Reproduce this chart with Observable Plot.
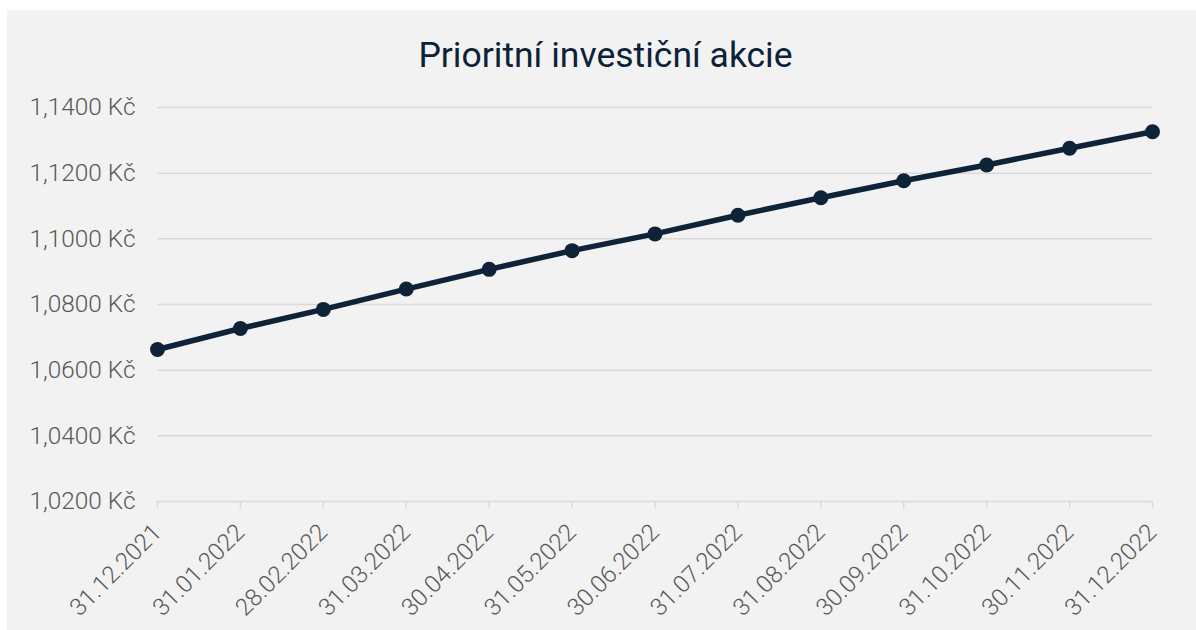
<!DOCTYPE html>
<html>
<head>
<meta charset="utf-8">
<script src="https://cdn.jsdelivr.net/npm/d3@7"></script>
<script src="https://cdn.jsdelivr.net/npm/@observablehq/plot@0.6"></script>
<style>
  body { margin: 0; background: #ffffff; }
  #frame { position: absolute; left: 7px; top: 10px; width: 1189px; height: 620px; background: #f2f2f2; font-family: Roboto, sans-serif; overflow: hidden; }
  #title { position: absolute; left: 4px; top: 24px; width: 1189px; text-align: center; font-size: 35.5px; line-height: normal; color: #0d2137; font-weight: 400; }
  #chart { position: absolute; left: 0; top: 80px; width: 1189px; }
  #chart svg text { font-family: Roboto, sans-serif; font-weight: 300; fill: #595959; }
</style>
</head>
<body>
<div id="frame">
  <div id="title">Prioritní investiční akcie</div>
  <div id="chart"></div>
</div>
<script>
const dates = ["31.12.2021","31.01.2022","28.02.2022","31.03.2022","30.04.2022","31.05.2022","30.06.2022","31.07.2022","31.08.2022","30.09.2022","31.10.2022","30.11.2022","31.12.2022"];
const values = [1.0663, 1.0727, 1.0785, 1.0847, 1.0907, 1.0964, 1.1015, 1.1072, 1.1125, 1.1177, 1.1225, 1.1276, 1.1326];
const yTicks = [1.02, 1.04, 1.06, 1.08, 1.10, 1.12, 1.14];

const data = dates.map((d, i) => ({date: d, value: values[i]}));
const fmt = v => v.toFixed(4).replace(".", ",") + "\u00a0Kč";
const lineColor = "#0e2238";
const gridColor = "#d9d9d9";

const chart = Plot.plot({
  width: 1189,
  height: 540,
  marginTop: 17,
  marginBottom: 129,
  marginLeft: 150,
  marginRight: 44,
  style: { background: "transparent", fontFamily: "Roboto, sans-serif", overflow: "visible" },
  x: { type: "point", domain: dates, padding: 0, round: false },
  y: { domain: [1.02, 1.14] },
  marks: [
    Plot.ruleY(yTicks, { stroke: gridColor, strokeWidth: 1.5 }),
    Plot.axisY({ ticks: yTicks, tickFormat: fmt, tickSize: 0, tickPadding: 22, fontSize: 24.4, label: null }),
    Plot.axisX({ tickRotate: -45, tickSize: 7, tickPadding: 20, fontSize: 24, stroke: gridColor, strokeWidth: 1.5, strokeOpacity: 1, label: null }),
    Plot.line(data, { x: "date", y: "value", stroke: lineColor, strokeWidth: 5.5 }),
    Plot.dot(data, { x: "date", y: "value", r: 7.5, fill: lineColor })
  ]
});
document.getElementById("chart").appendChild(chart);
</script>
</body>
</html>
